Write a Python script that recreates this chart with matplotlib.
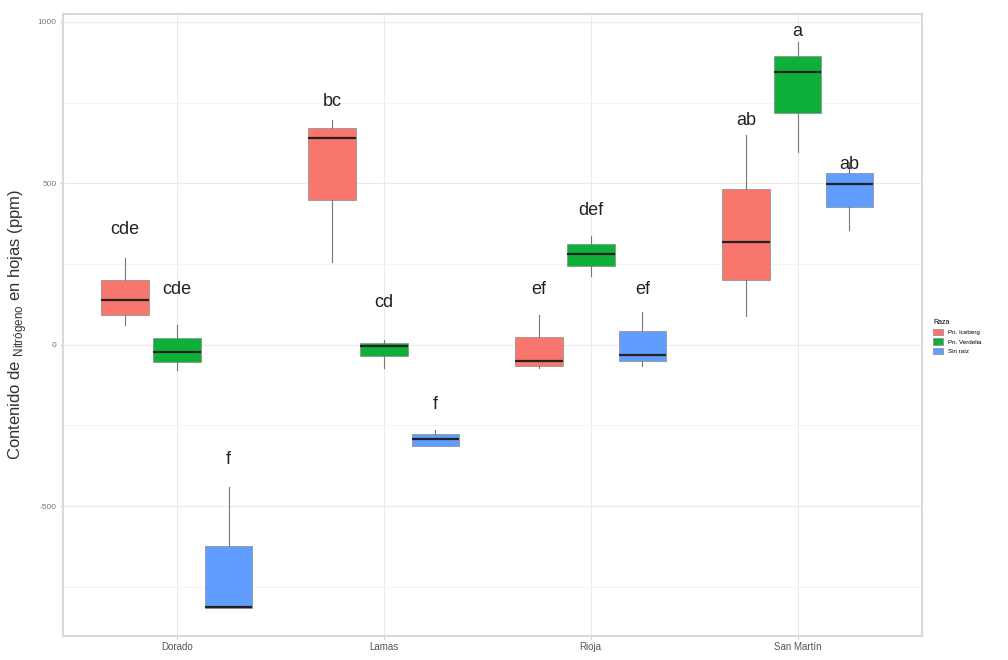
import matplotlib
matplotlib.use("Agg")
import matplotlib.pyplot as plt
from matplotlib.patches import Patch
import numpy as np

plt.rcParams["font.family"] = ["Liberation Sans", "DejaVu Sans"]
plt.rcParams["mathtext.fontset"] = "custom"
plt.rcParams["mathtext.rm"] = "Liberation Sans"

# Datos leidos por variedad y tratamiento (ppm)
variedades = ["Dorado", "Lamas", "Rioja", "San Martín"]
tratamientos = ["Pn. Iceberg", "Pn. Verdelia", "Sin raíz"]
colores = ["#F8766D", "#0FB03A", "#619CFF"]

whis_bajo = [[62, 257, -71, 90], [-77, -71, 214, 598], [-817, -313, -65, 356]]
q1 = [[93, 449, -65, 201], [-53, -34, 245, 718], [-817, -313, -50, 427]]
mediana = [[139, 641, -50, 319], [-22, -3, 282, 845], [-812, -291, -31, 498]]
q3 = [[201, 672, 25, 483], [22, 6, 313, 895], [-625, -276, 43, 533]]
whis_alto = [[269, 697, 93, 650], [62, 15, 337, 938], [-440, -263, 102, 567]]

letras = [["cde", "bc", "ef", "ab"], ["cde", "cd", "def", "a"], ["f", "f", "ef", "ab"]]
y_letras = [[356, 752, 170, 694], [170, 130, 415, 969], [-356, -186, 170, 557]]

fig = plt.figure(figsize=(10.08, 6.6), dpi=100)
ax = fig.add_axes([0.0625, 0.037, 0.852, 0.942])

ancho = 0.23
desplaz = 0.25
x = np.arange(len(variedades))

for i, trat in enumerate(tratamientos):
    stats = []
    for j in range(len(variedades)):
        stats.append(dict(whislo=whis_bajo[i][j], q1=q1[i][j], med=mediana[i][j],
                          q3=q3[i][j], whishi=whis_alto[i][j], fliers=[]))
    pos = x + (i - 1) * desplaz
    ax.bxp(stats, positions=pos, widths=ancho, patch_artist=True, showcaps=False,
           boxprops=dict(facecolor=colores[i], edgecolor="#8a8a8a", linewidth=0.5),
           medianprops=dict(color="#222222", linewidth=1.6),
           whiskerprops=dict(color="#777777", linewidth=0.8),
           manage_ticks=False, zorder=3)
    for j in range(len(variedades)):
        ax.text(pos[j], y_letras[i][j], letras[i][j], ha="center", va="center",
                fontsize=13, color="#222222", zorder=4)

ax.set_xlim(-0.55, 3.6)
ax.set_ylim(-901, 1025)
ax.set_xticks(x)
ax.set_xticklabels(variedades, fontsize=7, color="#555555")
ax.set_yticks([-500, 0, 500, 1000])
ax.set_yticklabels(["-500", "0", "500", "1000"], fontsize=6, color="#777777")
ax.set_yticks([-750, -250, 250, 750], minor=True)
ax.tick_params(axis="both", which="major", length=2.5, color="#cccccc", pad=2)
ax.tick_params(axis="y", which="minor", length=0)
ax.grid(True, which="major", color="#ebebeb", linewidth=0.8, zorder=0)
ax.grid(True, which="minor", axis="y", color="#f3f3f3", linewidth=0.6, zorder=0)
ax.set_axisbelow(True)
for s in ax.spines.values():
    s.set_color("#d9d9d9")
    s.set_linewidth(1.5)

ax.set_ylabel("Contenido de $_{\\mathrm{Nitrógeno}}$ en hojas (ppm)", fontsize=12,
              color="#333333", labelpad=6)

handles = [Patch(facecolor=c, edgecolor="#8a8a8a", linewidth=0.5) for c in colores]
leg = fig.legend(handles, tratamientos, title="Raza", loc="center left",
                 bbox_to_anchor=(0.92, 0.49), frameon=False, fontsize=4.5,
                 title_fontsize=5, handlelength=1.6, handleheight=1.2,
                 labelspacing=0.5)
leg._legend_box.align = "left"

fig.savefig("out.png", dpi=100)
